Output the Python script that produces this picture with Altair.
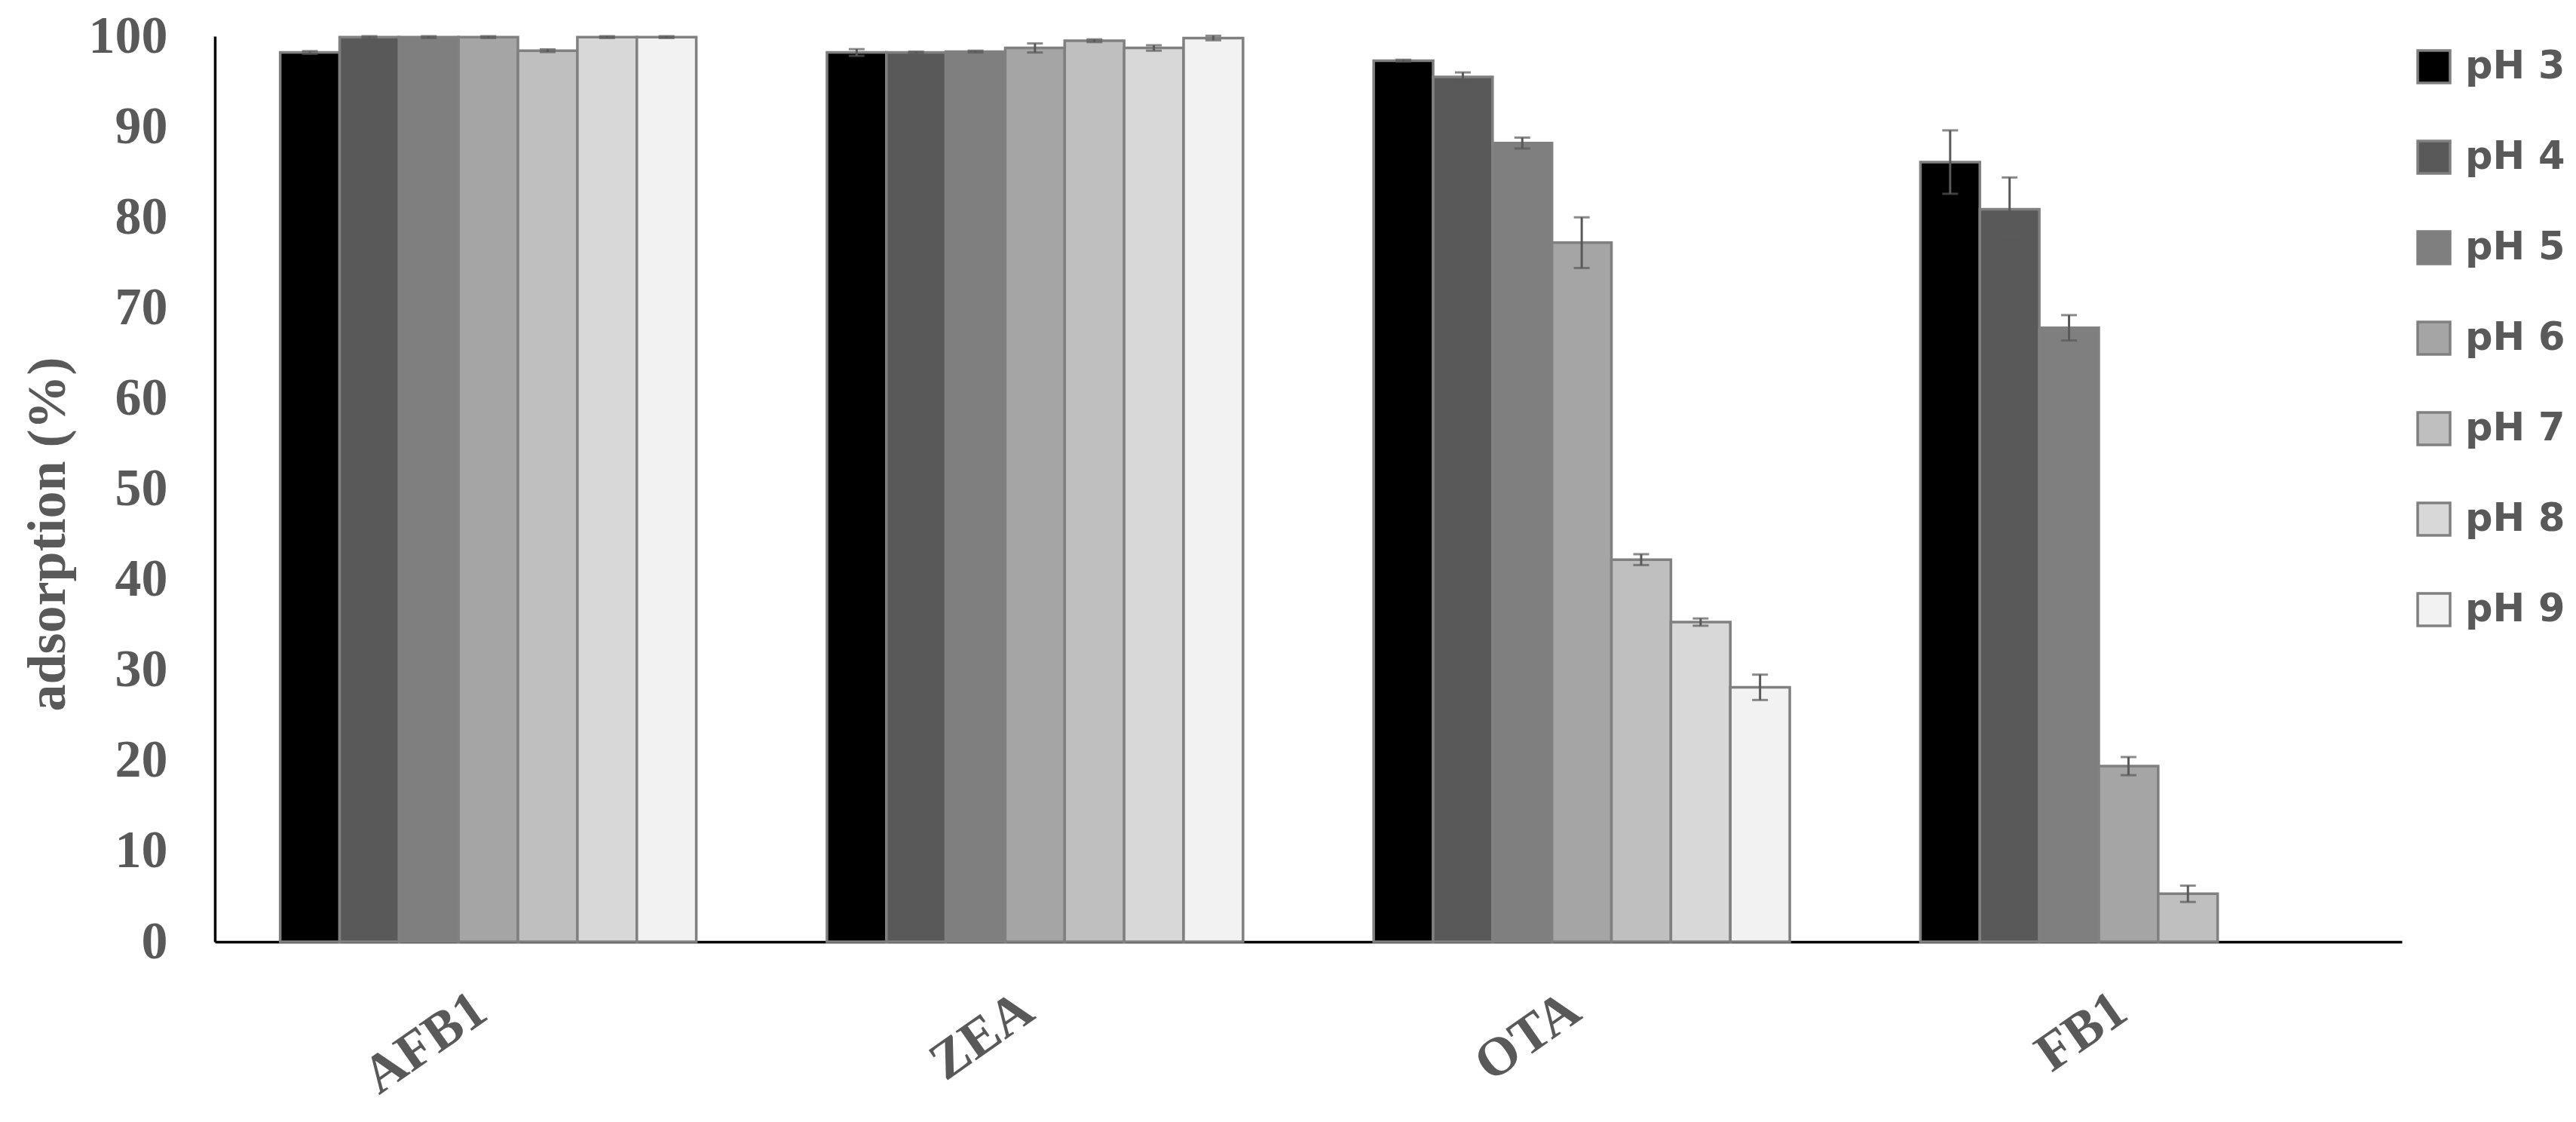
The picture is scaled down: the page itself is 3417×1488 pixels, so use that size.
import altair as alt
import pandas as pd

toxins = ["AFB1", "ZEA", "OTA", "FB1"]
ph_levels = ["pH 3", "pH 4", "pH 5", "pH 6", "pH 7", "pH 8", "pH 9"]
fill_colors = ["#000000", "#595959", "#7f7f7f", "#a5a5a5", "#bfbfbf", "#d8d8d8", "#f2f2f2"]
y_ticks = [0, 10, 20, 30, 40, 50, 60, 70, 80, 90, 100]

afb1_values = [98.2, 99.9, 99.9, 99.9, 98.4, 99.9, 99.9]
afb1_errors = [0.15, 0.1, 0.1, 0.1, 0.15, 0.1, 0.1]
zea_values = [98.2, 98.2, 98.3, 98.7, 99.5, 98.7, 99.8]
zea_errors = [0.37, 0.1, 0.1, 0.5, 0.15, 0.3, 0.25]
ota_values = [97.3, 95.5, 88.2, 77.2, 42.2, 35.3, 28.1]
ota_errors = [0.1, 0.5, 0.6, 2.8, 0.6, 0.4, 1.4]
fb1_values = [86.1, 80.9, 67.8, 19.4, 5.3, None, None]
fb1_errors = [3.5, 3.5, 1.4, 1.0, 0.9, None, None]

rows = []
for t, vals, errs in zip(
    toxins,
    [afb1_values, zea_values, ota_values, fb1_values],
    [afb1_errors, zea_errors, ota_errors, fb1_errors],
):
    for ph, v, e in zip(ph_levels, vals, errs):
        if v is None:
            continue
        rows.append({"toxin": t, "ph": ph, "value": v, "err": e})
df = pd.DataFrame(rows)

GRAY = "#595959"
SERIF = "Liberation Serif"

x_enc = alt.X(
    "toxin:N",
    sort=toxins,
    scale=alt.Scale(domain=toxins, paddingInner=0.239, paddingOuter=0.1195),
    axis=alt.Axis(
        title=None,
        labelAngle=-35,
        labelAlign="right",
        labelBaseline="middle",
        labelPadding=82,
        labelOffset=-10,
        labelFont=SERIF,
        labelFontSize=72,
        labelFontWeight="bold",
        labelColor=GRAY,
        labelLimit=1000,
        ticks=False,
        tickSize=0,
        domainColor="black",
        domainWidth=3.5,
        grid=False,
    ),
)
xo_enc = alt.XOffset(
    "ph:N",
    sort=ph_levels,
    scale=alt.Scale(domain=ph_levels, paddingInner=0, paddingOuter=0),
)
y_axis = alt.Axis(
    values=y_ticks,
    title="adsorption (%)",
    titleFont=SERIF,
    titleFontSize=72,
    titleFontWeight="bold",
    titleColor=GRAY,
    titleX=-200,
    titleY=660,
    titleAngle=270,
    titleAlign="center",
    titleBaseline="alphabetic",
    labelFont=SERIF,
    labelFontSize=70,
    labelFontWeight="bold",
    labelColor=GRAY,
    labelPadding=63,
    ticks=False,
    tickSize=0,
    domainColor="black",
    domainWidth=3.5,
    grid=False,
)
y_scale = alt.Scale(domain=[0, 100], nice=False, zero=True)

base = alt.Chart(df).transform_calculate(
    lo="datum.value - datum.err", hi="datum.value + datum.err"
)

bars = base.mark_bar(stroke="#808080", strokeWidth=3.5).encode(
    x=x_enc,
    xOffset=xo_enc,
    y=alt.Y("value:Q", scale=y_scale, axis=y_axis),
    fill=alt.Fill(
        "ph:N",
        sort=ph_levels,
        scale=alt.Scale(domain=ph_levels, range=fill_colors),
        legend=alt.Legend(
            title=None,
            orient="none",
            legendX=2918,
            legendY=15,
            padding=0,
            symbolType="square",
            symbolSize=1849,
            symbolStrokeColor="#808080",
            symbolStrokeWidth=3.5,
            symbolOpacity=1,
            labelFont="DejaVu Sans",
            labelFontWeight="bold",
            labelFontSize=51,
            labelColor=GRAY,
            labelOffset=16,
            labelLimit=1000,
            rowPadding=63,
        ),
    ),
)

rules = base.mark_rule(color=GRAY, strokeWidth=3).encode(
    x=x_enc,
    xOffset=xo_enc,
    y=alt.Y("lo:Q", scale=y_scale, axis=y_axis),
    y2="hi:Q",
)
caps_lo = base.mark_tick(color=GRAY, thickness=3, size=21, orient="horizontal").encode(
    x=x_enc, xOffset=xo_enc, y=alt.Y("lo:Q", scale=y_scale, axis=y_axis)
)
caps_hi = base.mark_tick(color=GRAY, thickness=3, size=21, orient="horizontal").encode(
    x=x_enc, xOffset=xo_enc, y=alt.Y("hi:Q", scale=y_scale, axis=y_axis)
)

chart = (
    alt.layer(bars, rules, caps_lo, caps_hi)
    .properties(
        width=2901,
        height=1201,
        autosize=alt.AutoSizeParams(type="none"),
        padding={"left": 277, "top": 40, "right": 223, "bottom": 231},
        background="white",
    )
    .configure_view(stroke=None)
)

chart.save("out.html", embed_options={"renderer": "svg", "actions": False})
